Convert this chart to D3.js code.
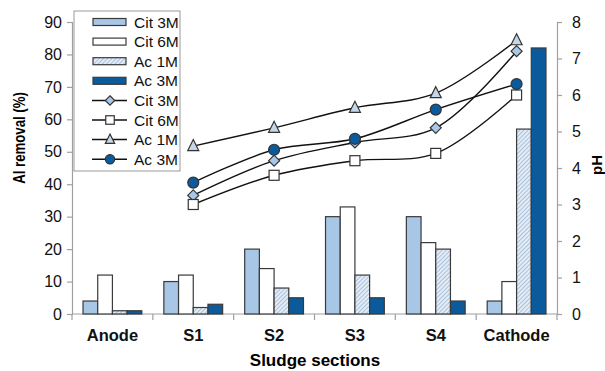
<!DOCTYPE html>
<meta charset="utf-8">
<head>
    <script type="text/javascript" src="https://cdn.jsdelivr.net/npm/d3@7"></script>
    <style>
        body { margin: 0; background: #fff; }
        text { font-family: "Liberation Sans", Arial, sans-serif; }
    </style>
</head>
<body>
<script>
    // data
    var categories = ["Anode", "S1", "S2", "S3", "S4", "Cathode"];
    var barSeries = ["Cit 3M", "Cit 6M", "Ac 1M", "Ac 3M"];
    var barCit3M = [4, 10, 20, 30, 30, 4];
    var barCit6M = [12, 12, 14, 33, 22, 10];
    var barAc1M = [1, 2, 8, 12, 20, 57];
    var barAc3M = [1, 3, 5, 5, 4, 82];

    var lineCats = ["S1", "S2", "S3", "S4", "Cathode"];
    var phCit3M = [3.25, 4.2, 4.7, 5.1, 7.2];
    var phCit6M = [3.0, 3.8, 4.2, 4.4, 6.0];
    var phAc1M = [4.6, 5.1, 5.65, 6.05, 7.5];
    var phAc3M = [3.6, 4.5, 4.8, 5.6, 6.3];

    var leftTicks = [0, 10, 20, 30, 40, 50, 60, 70, 80, 90];
    var rightTicks = [0, 1, 2, 3, 4, 5, 6, 7, 8];

    var W = 605, H = 371;
    var svg = d3.select("body").append("svg")
        .attr("width", W).attr("height", H);

    var defs = svg.append("defs");
    var pat = defs.append("pattern")
        .attr("id", "hatch")
        .attr("patternUnits", "userSpaceOnUse")
        .attr("width", 3).attr("height", 3)
        .attr("patternTransform", "rotate(45)");
    pat.append("rect").attr("width", 3).attr("height", 3).attr("fill", "#e4edf7");
    pat.append("line").attr("x1", 0).attr("y1", 0).attr("x2", 0).attr("y2", 3)
        .attr("stroke", "#8aa9c9").attr("stroke-width", 1.3);

    var barFill = {"Cit 3M": "#a8c6e6", "Cit 6M": "#ffffff", "Ac 1M": "url(#hatch)", "Ac 3M": "#0b5a9b"};

    var x = d3.scaleBand().domain(categories).range([72, 557]);
    var xs = d3.scaleBand().domain(barSeries).range([0, x.bandwidth()]).paddingInner(0).paddingOuter(0.75);
    var yL = d3.scaleLinear().domain([0, 90]).range([314, 22]);
    var yR = d3.scaleLinear().domain([0, 8]).range([314, 22]);

    // axes
    var axisCol = "#a0a0a0";
    var gl = svg.append("g").attr("transform", "translate(72,0)")
        .call(d3.axisLeft(yL).tickValues(leftTicks).tickSize(5).tickPadding(5));
    var gr = svg.append("g").attr("transform", "translate(557,0)")
        .call(d3.axisRight(yR).tickValues(rightTicks).tickSize(5).tickPadding(10));
    var gx = svg.append("g").attr("transform", "translate(0,314)")
        .call(d3.axisBottom(x).tickSize(0).tickPadding(15));
    [gl, gr, gx].forEach(function(g) {
        g.select(".domain").attr("stroke", axisCol).attr("stroke-width", 1.2);
        g.selectAll(".tick line").attr("stroke", axisCol).attr("stroke-width", 1.2);
        g.selectAll("text").attr("fill", "#111").style("font-size", "16px")
            .style("font-family", "'Liberation Sans', Arial, sans-serif");
    });
    gx.select(".domain").attr("d", "M72,0H557");
    gx.selectAll("text").style("font-weight", "bold").style("font-size", "16.5px");
    // category separators
    svg.append("g").selectAll("line")
        .data(categories.concat(["end"]))
        .enter().append("line")
        .attr("x1", function(d, i) { return x.range()[0] + i * x.step(); })
        .attr("x2", function(d, i) { return x.range()[0] + i * x.step(); })
        .attr("y1", 314).attr("y2", 320)
        .attr("stroke", axisCol).attr("stroke-width", 1.2);

    // bars
    var barData = [barCit3M, barCit6M, barAc1M, barAc3M];
    var bars = [];
    categories.forEach(function(c, i) {
        barSeries.forEach(function(s, j) {
            bars.push({cat: c, series: s, value: barData[j][i]});
        });
    });
    svg.append("g").selectAll("rect")
        .data(bars)
        .enter().append("rect")
        .attr("x", function(d) { return x(d.cat) + xs(d.series); })
        .attr("width", xs.bandwidth())
        .attr("y", function(d) { return yL(d.value); })
        .attr("height", function(d) { return 314 - yL(d.value); })
        .attr("fill", function(d) { return barFill[d.series]; })
        .attr("stroke", "#3a3a3a").attr("stroke-width", 1.2);

    // lines
    var lineSeries = [
        {name: "Cit 3M", vals: phCit3M, marker: "diamond", fill: "#a8c6e6"},
        {name: "Cit 6M", vals: phCit6M, marker: "square", fill: "#ffffff"},
        {name: "Ac 1M", vals: phAc1M, marker: "triangle", fill: "#c5d6e8"},
        {name: "Ac 3M", vals: phAc3M, marker: "circle", fill: "#0b5a9b"}
    ];
    var cx = function(c) { return x(c) + x.bandwidth() / 2; };
    var line = d3.line()
        .x(function(d) { return cx(d.cat); })
        .y(function(d) { return yR(d.v); })
        .curve(d3.curveCatmullRom.alpha(0.5));

    function drawMarker(g, type, fill, px, py, k) {
        var m;
        if (type === "diamond") {
            m = g.append("path").attr("d", "M0,-5.5L5.5,0L0,5.5L-5.5,0Z");
        } else if (type === "square") {
            m = g.append("rect").attr("x", -5).attr("y", -5).attr("width", 10).attr("height", 10);
        } else if (type === "triangle") {
            m = g.append("path").attr("d", "M0,-6.5L5.5,4.5L-5.5,4.5Z");
        } else {
            m = g.append("circle").attr("r", 5.5);
        }
        m.attr("transform", "translate(" + px + "," + py + ") scale(" + k + ")")
            .attr("fill", fill).attr("stroke", "#333").attr("stroke-width", 1.2 / k);
    }

    var lg = svg.append("g");
    lineSeries.forEach(function(s) {
        var pts = lineCats.map(function(c, i) { return {cat: c, v: s.vals[i]}; });
        lg.append("path").datum(pts).attr("d", line)
            .attr("fill", "none").attr("stroke", "#111").attr("stroke-width", 1.4);
    });
    lineSeries.forEach(function(s) {
        lineCats.forEach(function(c, i) {
            drawMarker(lg, s.marker, s.fill, cx(c), yR(s.vals[i]), 1);
        });
    });

    // legend
    var leg = svg.append("g");
    leg.append("rect").attr("x", 74).attr("y", 11).attr("width", 106).attr("height", 160)
        .attr("fill", "#fff").attr("stroke", "#999").attr("stroke-width", 1);
    barSeries.forEach(function(s, i) {
        var yy = 22 + i * 19.6;
        leg.append("rect").attr("x", 93).attr("y", yy - 3.5).attr("width", 33).attr("height", 7)
            .attr("fill", barFill[s]).attr("stroke", "#3a3a3a").attr("stroke-width", 1.2);
        leg.append("text").attr("x", 134).attr("y", yy + 5.5).text(s)
            .style("font-size", "15.5px").attr("fill", "#111");
    });
    lineSeries.forEach(function(s, i) {
        var yy = 22 + (i + 4) * 19.6;
        leg.append("line").attr("x1", 92).attr("x2", 127).attr("y1", yy).attr("y2", yy)
            .attr("stroke", "#111").attr("stroke-width", 1.5);
        drawMarker(leg, s.marker, s.fill, 110, yy, 0.85);
        leg.append("text").attr("x", 134).attr("y", yy + 5.5).text(s.name)
            .style("font-size", "15.5px").attr("fill", "#111");
    });

    // titles
    svg.append("text").attr("transform", "translate(25,138) rotate(-90) scale(0.8,1)")
        .attr("text-anchor", "middle").style("font-weight", "bold").style("font-size", "16.5px")
        .text("Al removal (%)");
    svg.append("text").attr("transform", "translate(602,165) rotate(-90)")
        .attr("text-anchor", "middle").style("font-weight", "bold").style("font-size", "15px")
        .text("pH");
    svg.append("text").attr("x", 315).attr("y", 366)
        .attr("text-anchor", "middle").style("font-weight", "bold").style("font-size", "17px")
        .text("Sludge sections");
</script>
</body>
